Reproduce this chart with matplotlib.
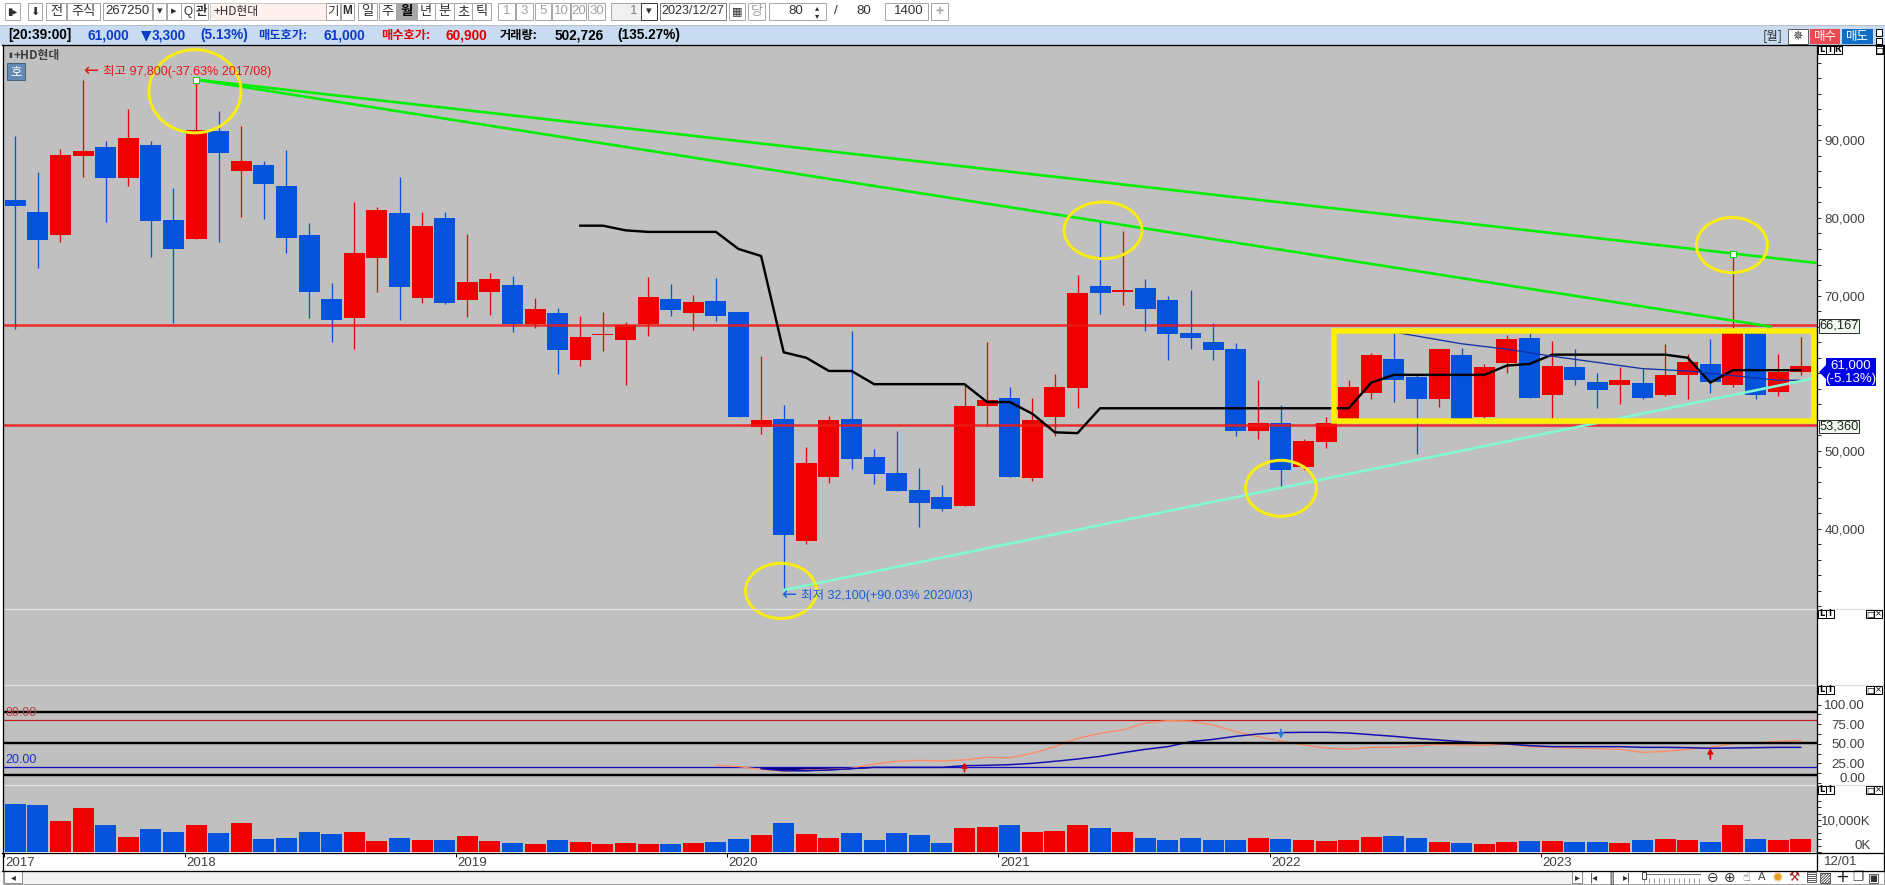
import matplotlib
matplotlib.use('Agg')
import matplotlib.pyplot as plt
from matplotlib.patches import Rectangle, Ellipse, Polygon
from matplotlib.ticker import FixedLocator
import numpy as np

# ---------- data ----------
opens = [82300,80800,77800,88000,89100,85100,89400,79700,77300,91200,86000,86800,84100,77800,69600,67100,74800,80600,69700,80000,
         69400,70500,71400,66300,67800,61700,64900,64300,66300,69600,67800,69300,67900,53100,54100,38400,46700,54100,49200,47200,
         45000,44100,42900,55800,56800,46500,54400,58100,71200,70500,71000,69400,65200,64000,63100,52600,53600,47900,51200,54100,
         57500,61800,59500,56700,62400,54400,61300,64500,57200,60800,58900,58500,58800,57200,59800,61200,58500,65500,57600,60200]
closes = [81500,77200,88100,88600,85100,90300,79600,76000,91300,88400,87300,84400,77400,70500,66900,75500,81000,71100,79000,69000,
          71800,72100,66300,68300,63000,64700,65100,66200,69800,68100,69200,67400,54400,54000,39200,48500,54000,49000,47000,44900,
          43300,42500,55800,56600,46700,54000,58200,70300,70300,70700,68300,65100,64500,63000,52600,53600,47600,51300,53600,58200,
          62400,59100,56700,63100,54100,60800,64400,56800,60900,59100,57900,59100,56800,59800,61500,58900,65500,57200,60200,61000]
highs = [90500,85900,88900,97800,89900,94000,89900,83800,97800,93800,91800,87300,88700,79300,71600,82000,81400,85300,80800,80800,
         77900,72900,72500,69700,68400,67400,67900,66600,72400,71500,70100,72300,67900,62200,55900,50500,54500,65400,50300,52600,
         47800,45600,58500,64000,58200,56800,59900,72700,79500,78300,72100,69900,70700,66500,63900,59100,55900,51500,54400,59100,
         62600,65200,59900,63100,63300,61200,64900,65200,64200,63100,60000,60800,60600,63800,62500,64400,75400,65500,62500,64700]
lows = [65700,73600,76900,85200,79500,84100,75000,66500,77300,76900,80100,79900,75500,67100,64000,63100,70500,66900,69000,68900,
        67200,67500,65300,65800,59900,60900,62900,58500,64800,67400,65600,66700,54400,52200,32100,38000,45900,47700,45800,44900,
        40200,42300,42900,53200,46700,46100,51900,55500,67600,68800,65400,61700,63100,61700,51900,51500,45200,47600,50400,53500,
        56700,56300,49600,55700,53800,54100,60000,56800,53800,58500,55500,56000,56700,57100,56700,57500,58200,56700,57100,59800]
volumes = [15000,14700,9700,13700,8400,4700,7200,6200,8400,5900,9100,4100,4400,6200,5600,6200,3400,4400,3700,3700,
           5000,3400,2800,2500,3700,3100,2500,2800,2500,2500,2800,3100,4100,5300,9100,5600,4400,5900,3700,5900,
           5300,2800,7500,7800,8400,6200,6600,8400,7500,6200,4400,3700,4400,3700,3700,4400,4100,3700,3400,3700,
           4700,5000,4400,3100,2800,2500,3100,3400,3400,3100,3100,2800,3700,4100,3700,3100,8400,4100,3700,4100]

black_start = 25
black_line = [79000,79000,78400,78200,78200,78200,78200,76000,75100,62700,62000,60300,60300,58600,58600,58600,58600,58600,
              56300,56300,54800,52400,52300,55500,55500,55500,55500,55500,55500,55500,55500,55500,55500,55500,55500,
              58800,59800,59800,59800,59800,59800,61000,61200,62400,62400,62400,62400,62400,62400,62000,58800,60400,60400,60400,60400]
thin_idx = [61,62,64,66,68,70,72,74,76,78,79]
thin_line = [65300,64800,63800,63100,62200,61400,60600,60300,59700,59100,59100]

levels = [66167, 53360]
green_x = [[8,79.7],[8,77.7]]
green_y = [[97800,74200],[97800,66000]]
handle_x = [8,76]
handle_y = [97800,75400]
aqua_x = [34,79.5]
aqua_y = [32100,59300]
box_x = [58.33,79.6]
box_y = [53800,65500]
ell_cx = [7.95,48.13,75.96,56.0,33.88]
ell_cy = [96300,78400,76500,45200,32000]
ell_w = [4.07,3.45,3.14,3.14,3.14]
ell_h = [10700,7300,7100,7200,7100]

stoch_k_start = 31
stoch_k = [22.6,20.9,17.4,14.9,16.6,17.4,18.7,24.3,27.7,28.9,28.1,29.4,32.8,32.3,37.9,46.4,57,63.4,67.7,76.6,79.6,79.1,74,65.5,
           59.1,53.6,48.5,44.7,43,45.5,45.5,47.2,49.4,48.5,48.1,49.4,46.4,45.5,44.3,43.8,43,39.1,40.4,43,45.5,50.6,51,53.2,54.5]
stoch_d_start = 33
stoch_d = [18.3,15.7,15.7,16.6,18.3,20,20,20,20,22.1,22.6,23.4,25.1,27.7,30.6,34,38.7,43,46.4,52.8,55.7,59.6,62.6,64.3,64.7,64.7,
           63.8,61.7,59.6,57,54.9,52.8,51.1,49.8,47.7,46.4,46.4,46.4,46.4,45.5,45.5,45.1,44.3,44.7,45.1,45.5,45.5]
stoch_levels = [80, 20]
user_levels = [90.6, 51.5, 10.6]
arrow_x = [42, 56, 75]
arrow_from = [14.5, 68.5, 30.6]
arrow_to = [26, 57, 44.3]
arrow_col = ['#e00000', '#2a7ad8', '#e00000']

years = ['2017','2018','2019','2020','2021','2022','2023']
year_pos = [-0.5,7.5,19.5,31.5,43.5,55.5,67.5]
price_ticks = [40000,50000,70000,80000,90000]
price_labels = ['40,000','50,000','70,000','80,000','90,000']
stoch_ticks = [25,50,75,100]
stoch_labels = ['25.00','50.00','75.00','100.00']

# ---------- style ----------
fam = ['Liberation Sans','Noto Sans CJK KR','DejaVu Sans']
sym = ['DejaVu Sans','Noto Sans CJK KR']
kr = ['Noto Sans CJK KR','DejaVu Sans']
plt.rcParams['font.family'] = fam
RED='#ee0000'; BLUE='#0553dd'; GRAY='#c0c0c0'; TXT='#404040'
W,H=1885,885
fig=plt.figure(figsize=(W/100,H/100),dpi=100,facecolor='white')
PT=0.72  # one pixel in points
LBL=9.6

def pane(y0,y1,x0=3,x1=1817,z=1):
    return fig.add_axes([x0/W,1-y1/H,(x1-x0)/W,(y1-y0)/H],facecolor=GRAY,zorder=z)
XLIM=(-0.544,79.72)
def right_ticks(ax):
    ax.yaxis.tick_right()
    ax.set_xlim(*XLIM); ax.set_xticks([])
    for s in ax.spines.values(): s.set_visible(False)
    ax.tick_params(axis='y',which='both',length=3,width=PT,color='#303030',pad=48*PT-3,labelsize=LBL,labelcolor=TXT)
    for l in ax.get_yticklabels(): l.set_ha('right')

x=np.arange(len(opens))
up=[c>=o for o,c in zip(opens,closes)]
cols=[RED if u else BLUE for u in up]

# ---------- empty pane (below the price pane, so the circle may overlap it) ----------
ax0=pane(610,685); ax0.set_xticks([]); ax0.set_yticks([])
for s in ax0.spines.values(): s.set_visible(False)

# ---------- price pane ----------
ax=pane(46,609,z=2)
ax.set_ylim(29665,102124)
ax.vlines(x,lows,highs,colors=cols,lw=1.3*PT,zorder=2)
ax.bar(x,[c-o for o,c in zip(opens,closes)],bottom=opens,width=0.93,color=cols,linewidth=0,zorder=3)
for lv in levels:
    ax.axhline(lv,color='#f01818',lw=2.6*PT,alpha=0.85,zorder=4)
ax.plot(np.arange(black_start,black_start+len(black_line)),black_line,color='black',lw=2.4*PT,zorder=5)
ax.plot(thin_idx,thin_line,color='#1030a8',lw=1.3*PT,zorder=5)
for gx,gy in zip(green_x,green_y):
    ax.plot(gx,gy,color='#00ee00',lw=2.6*PT,zorder=6,solid_capstyle='butt')
ax.plot(aqua_x,aqua_y,color='#80f8d0',lw=2.6*PT,zorder=6)
ax.plot(handle_x,handle_y,ls='none',marker='s',ms=5.5*PT,mfc='white',mec='#00dd00',mew=1*PT,zorder=7)
ax.add_patch(Rectangle((box_x[0],box_y[0]),box_x[1]-box_x[0],box_y[1]-box_y[0],fill=False,ec='#ffee00',lw=5.5*PT,zorder=8,joinstyle='miter'))
for cx,cy,w,h in zip(ell_cx,ell_cy,ell_w,ell_h):
    ax.add_patch(Ellipse((cx,cy),w,h,fill=False,ec='#f8ec10',lw=3*PT,zorder=8,clip_on=False))
ax.yaxis.set_major_locator(FixedLocator(price_ticks))
ax.yaxis.set_minor_locator(FixedLocator(np.arange(30000,102001,2000)))
ax.set_yticklabels(price_labels)
right_ticks(ax)

# ---------- stochastic pane ----------
ai=pane(686,785)
ai.set_ylim(20-(785-767.33)/0.7833,20+(767.33-686)/0.7833)
ai.axhline(stoch_levels[0],color='#b82020',lw=1.2*PT,zorder=2)
ai.axhline(stoch_levels[1],color='#1010c0',lw=1.3*PT,zorder=2)
xk=np.arange(stoch_k_start,stoch_k_start+len(stoch_k))
xd=np.arange(stoch_d_start,stoch_d_start+len(stoch_d))
dv=np.array(stoch_d)
ai.fill_between(xd,dv,stoch_levels[1],where=dv<stoch_levels[1],color='#000080',lw=0,zorder=2.5,interpolate=True)
ai.plot(xk,stoch_k,color='#ff8a60',lw=1.3*PT,zorder=3)
ai.plot(xd,stoch_d,color='#1010b0',lw=1.5*PT,zorder=4)
for lv in user_levels:
    ai.axhline(lv,color='black',lw=2.4*PT,zorder=5)
for ax_,a,b,c in zip(arrow_x,arrow_from,arrow_to,arrow_col):
    ai.annotate('',xy=(ax_,b),xytext=(ax_,a),arrowprops=dict(arrowstyle='-|>,head_width=0.16,head_length=0.28',color=c,lw=1.2,shrinkA=0,shrinkB=0),zorder=6)
ai.yaxis.set_major_locator(FixedLocator(stoch_ticks))
ai.yaxis.set_minor_locator(FixedLocator(np.arange(0,101,12.5)))
ai.set_yticklabels(stoch_labels)
right_ticks(ai)
ai.annotate('0.00',xy=(1,0),xycoords=ai.get_yaxis_transform(),xytext=(48*PT,4*PT),textcoords='offset points',ha='right',va='center',fontsize=LBL,color=TXT,annotation_clip=False)

# ---------- volume pane ----------
av=pane(786,852)
av.bar(x,volumes,width=0.93,color=cols,linewidth=0,zorder=2)
av.set_ylim(0,66/32*10000)
av.yaxis.set_major_locator(FixedLocator([10000]))
av.yaxis.set_minor_locator(FixedLocator(np.arange(0,20001,2000)))
av.set_yticklabels(['10,000K'])
right_ticks(av)
av.tick_params(axis='y',which='major',pad=48*PT-3+6*PT)
av.annotate('0K',xy=(1,0),xycoords=av.get_yaxis_transform(),xytext=(54*PT,6*PT),textcoords='offset points',ha='right',va='center',fontsize=LBL,color=TXT,annotation_clip=False)

# ---------- date pane ----------
ad=fig.add_axes([3/W,1-870/H,(1817-3)/W,(870-853)/H],facecolor='white',zorder=1)
ad.set_xlim(*XLIM); ad.set_ylim(0,1); ad.set_yticks([])
ad.xaxis.tick_top()
ad.set_xticks(year_pos); ad.set_xticklabels([])
ad.tick_params(axis='x',length=3,width=PT,color='black',direction='in')
for s in ad.spines.values(): s.set_visible(False)
for p,y in zip(year_pos,years):
    ad.text(p+0.07,0.42,y,ha='left',va='center',fontsize=LBL,color=TXT)

# ---------- window furniture in pixel coordinates ----------
ov=fig.add_axes([0,0,1,1],zorder=5); ov.set_xlim(0,W); ov.set_ylim(H,0); ov.axis('off'); ov.patch.set_alpha(0)
def rect(x0,y0,x1,y1,fc='none',ec='none',lw=1,z=1):
    ov.add_patch(Rectangle((x0,y0),x1-x0,y1-y0,fc=fc,ec=ec,lw=lw*PT,zorder=z))
def t(x_,y_,s,c='black',fs=9.5,ha='center',va='center',w='normal',f=None,z=3):
    ov.text(x_,y_,s,color=c,fontsize=fs,ha=ha,va=va,fontweight=w,family=f if f else fam,zorder=z)
def btn(x0,x1,s='',fc='white',ec='#a8a8a8',c='#303030',fs=9.5,w='normal',f=None,y0=3,y1=20,ha='center'):
    rect(x0,y0,x1,y1,fc=fc,ec=ec)
    if s:
        t((x0+x1)/2 if ha=='center' else x1-4,(y0+y1)/2,s,c=c,fs=fs,w=w,f=f,ha=ha)

# top toolbar
btn(5,20,'▮▸',f=sym,fs=7); btn(28,42,'⬇',f=sym,fs=8)
btn(46,66,'전',f=kr,fs=9.5); btn(67,100,'주식',f=kr,fs=9.5)
btn(103,152,'267250')
btn(153,166,'▾',f=sym,fs=8); btn(167,181,'▸',f=sym,fs=8); btn(181,194,'Q',fs=8.5); btn(194,208,'관',f=kr,fs=9,w='bold')
rect(210,3,326,20,fc='#fff0f0',ec='#c8c8c8')
t(214,11.5,'+HD현대',ha='left',f=kr,fs=8.5,c='#303030')
btn(326,340,'기',f=kr,fs=9); btn(341,354,'M',fs=8.5,w='bold')
for a,b,s in [(358,377,'일'),(379,396,'주'),(417,435,'년'),(435,454,'분'),(454,472,'초'),(472,491,'틱')]:
    btn(a,b,s,f=kr,fs=9.5)
btn(396,417,'월',fc='#a8a8a8',f=kr,fs=9.5,w='bold',c='black')
for a,b,s in [(498,515,'1'),(516,533,'3'),(535,551,'5'),(552,570,'10'),(571,586,'20'),(588,605,'30')]:
    btn(a,b,s,c='#a0a0a0')
btn(611,641,'1',fc='#f0f0f0',c='#808080',ha='right')
btn(641,657,'▾',f=sym,fs=8,ec='#404040')
btn(660,726,'2023/12/27',ec='#808080',fs=9)
btn(729,745,'▦',f=sym,fs=8); btn(748,765,'당',f=kr,c='#a0a0a0',fs=9.5)
btn(769,826,''); t(803,11.5,'80',ha='right',c='#303030'); t(817,8,'▴',f=sym,fs=6,c='#303030'); t(817,15.5,'▾',f=sym,fs=6,c='#303030')
t(836,11.5,'/',c='#303030'); t(864,11.5,'80',c='#303030')
btn(885,928,'1400',ha='right'); btn(931,948,'✚',f=sym,c='#b0b0b0',fs=7)

# info bar
rect(0,25,W,45,fc='#c9dbf0',ec='none',z=0)
ov.plot([0,W],[24.5,24.5],color='#b8c0c8',lw=1*PT,zorder=1)
iy=35.5
for xs,s,c,fn in [(8,'[20:39:00]','black',fam),(88,'61,000','#0a3cc8',fam),(141,'▼','#0a3cc8',sym),(152,'3,300','#0a3cc8',fam),(200,'(5.13%)','#0a3cc8',fam),
               (258,'매도호가:','#0a3cc8',kr),(323,'61,000','#0a3cc8',fam),(381,'매수호가:','#e00000',kr),(445,'60,900','#e00000',fam),
               (500,'거래량:','black',kr),(555,'502,726','black',fam),(617,'(135.27%)','black',fam)]:
    t(xs,iy,s,c=c,ha='left',fs=8.8 if fn is kr else 9.8,w='bold',f=fn)
t(1773,36,'[월]',f=kr,fs=9,c='#303030')
rect(1788,29,1808,44,fc='white',ec='#606060'); t(1798,36.5,'✵',f=sym,fs=9,c='#303030')
rect(1810,29,1840,44,fc='#ec4a50'); t(1825,36.5,'매수',c='white',f=kr,fs=9)
rect(1842,29,1873,44,fc='#0f6fc8'); t(1857.5,36.5,'매도',c='white',f=kr,fs=9)
rect(1876,29,1882,36,fc='white',ec='black'); rect(1876,38,1882,44,fc='white',ec='black')

# frame lines
for xx in (2.5,1817,1884):
    ov.plot([xx,xx],[45,870],color='black',lw=1.3*PT,zorder=4)
ov.plot([2,1884],[45.3,45.3],color='black',lw=1.3*PT,zorder=4)
ov.plot([2,1884],[853,853],color='black',lw=1.3*PT,zorder=4)
ov.plot([2,1884],[870.5,870.5],color='black',lw=1.3*PT,zorder=4)
ov.plot([3,1884],[609,609],color='#e0e0e0',lw=1.2*PT,zorder=0)
for yy in (685,785):
    ov.plot([3,1884],[yy,yy],color='#e0e0e0',lw=1.2*PT,zorder=2)

# pane badges
for yy in (46,610,686,786):
    for xx,s in ((1818,'L'),(1826,'I')):
        rect(xx,yy,xx+7.5,yy+8,fc='white',ec='black'); t(xx+3.7,yy+4,s,fs=6,f=sym,w='bold')
    if yy!=46:
        rect(1866,yy,1874,yy+8,fc='white',ec='black'); t(1870,yy+4,'□',fs=6,f=sym)
        rect(1874,yy,1882,yy+8,fc='white',ec='black'); t(1878,yy+4,'×',fs=6,f=sym)
rect(1834,46,1841.5,54,fc='white',ec='black'); t(1837.7,50,'R',fs=6,f=sym,w='bold')
rect(1876,46,1883,54,fc='white',ec='black'); t(1879.5,50,'□',fs=6,f=sym)

# chart annotations
t(8,55,'▮',c='#404040',fs=5,ha='left',f=sym)
t(14,55,'+HD현대',c='#404040',ha='left',f=kr,fs=8.5,w='bold')
rect(7,63,25,80,fc='#6488b4',ec='#506070'); t(16,71.5,'호',c='white',f=kr,fs=9)
t(83,71,'←',c='#e01818',ha='left',fs=13,f=sym)
t(103,72,'최고 97,800(-37.63% 2017/08)',c='#e01818',ha='left',fs=9)
t(781,595,'←',c='#1a5fd0',ha='left',fs=13,f=sym)
t(801,596,'최저 32,100(+90.03% 2020/03)',c='#1a5fd0',ha='left',fs=9)
t(5,713,'80.00',c='#c04040',ha='left',fs=9)
t(5,760,'20.00',c='#2030c0',ha='left',fs=9)

# price flags
rect(1819,319,1859,333,fc='#eefbee',ec='#303030'); t(1839,326,'66,167',c='#202020',fs=9.3)
rect(1819,420,1859,433,fc='#eefbee',ec='#303030'); t(1839,426.5,'53,360',c='#202020',fs=9.3)
rect(1826,358,1876,386,fc='#0000e8'); t(1851,365.5,'61,000',c='white',fs=9.5); t(1851,379,'(-5.13%)',c='white',fs=9.5)
ov.add_patch(Polygon([[1826,365],[1819,372],[1826,379]],fc='#0000e8',ec='none',zorder=2))

# date-axis right cell
t(1841,862,'12/01',c=TXT,fs=LBL)

# bottom scroller
rect(3,871,1884,884,fc='#f2f2f2',ec='#a0a0a0',z=1)
btn(4,22,'◂',f=sym,fs=7,y0=871,y1=883,ec='#909090')
btn(1572,1582,'▸',f=sym,fs=7,y0=871,y1=883,ec='#909090')
rect(1584,871,1884,884,fc='white',ec='none',z=1)
for xx,s,fs_,c in [(1594,'|◂',7,'#303030'),(1611,'∥',9,'#303030'),(1627,'▸|',7,'#303030'),(1713,'⊖',10,'#303030'),(1730,'⊕',10,'#303030'),
                 (1746,'☝',9,'#303030'),(1762,'A',8,'#404040'),(1777,'✹',10,'#e8a020'),(1794,'⚒',9,'#a02020'),(1812,'▤',9,'#303030'),
                 (1825,'▨',10,'#303030'),(1842,'+',12,'#202020'),(1858,'❐',9,'#303030'),(1874,'▣',9,'#303030')]:
    t(xx,877.5,s,c=c,fs=fs_,f=sym)
ov.plot([1642,1700],[874,874],color='#707070',lw=1*PT,zorder=3)
ov.vlines(np.arange(1644,1702,5),878,883,color='#707070',lw=0.7*PT,zorder=3)
rect(1642,872,1646,879,fc='white',ec='#505050',z=4)

fig.savefig('out.png',dpi=100,facecolor='white')
